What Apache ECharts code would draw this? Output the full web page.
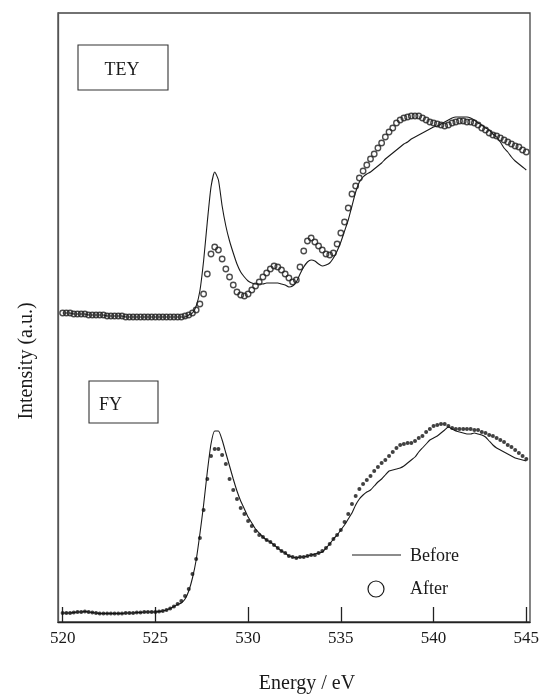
<!DOCTYPE html>
<html>
<head>
<meta charset="utf-8">
<script src="https://cdn.jsdelivr.net/npm/echarts@6/dist/echarts.min.js"></script>
<style>
  html, body { margin: 0; padding: 0; background: #ffffff; }
  #chart { width: 550px; height: 694px; }
</style>
</head>
<body>
<div id="chart"></div>
<script>
// Photon energy (eV) sampling grid shared by all spectra
const energy = [
  520.0, 520.2, 520.4, 520.6, 520.8, 521.0, 521.2, 521.4, 521.6, 521.8,
  522.0, 522.2, 522.4, 522.6, 522.8, 523.0, 523.2, 523.4, 523.6, 523.8,
  524.0, 524.2, 524.4, 524.6, 524.8, 525.0, 525.2, 525.4, 525.6, 525.8,
  526.0, 526.2, 526.4, 526.6, 526.8, 527.0, 527.2, 527.4, 527.6, 527.8,
  528.0, 528.2, 528.4, 528.6, 528.8, 529.0, 529.2, 529.4, 529.6, 529.8,
  530.0, 530.2, 530.4, 530.6, 530.8, 531.0, 531.2, 531.4, 531.6, 531.8,
  532.0, 532.2, 532.4, 532.6, 532.8, 533.0, 533.2, 533.4, 533.6, 533.8,
  534.0, 534.2, 534.4, 534.6, 534.8, 535.0, 535.2, 535.4, 535.6, 535.8,
  536.0, 536.2, 536.4, 536.6, 536.8, 537.0, 537.2, 537.4, 537.6, 537.8,
  538.0, 538.2, 538.4, 538.6, 538.8, 539.0, 539.2, 539.4, 539.6, 539.8,
  540.0, 540.2, 540.4, 540.6, 540.8, 541.0, 541.2, 541.4, 541.6, 541.8,
  542.0, 542.2, 542.4, 542.6, 542.8, 543.0, 543.2, 543.4, 543.6, 543.8,
  544.0, 544.2, 544.4, 544.6, 544.8, 545.0
];

// TEY spectra (vertically offset), arbitrary units
const teyBefore = [
  309, 309, 309, 308, 308, 308, 308, 307, 307, 307,
  307, 307, 306, 306, 306, 306, 306, 305, 305, 305,
  305, 305, 305, 305, 305, 305, 305, 305, 305, 305,
  305, 305, 305, 305, 307, 309, 316, 331, 361, 400,
  435, 450, 442, 416, 396, 381, 369, 358, 350, 345,
  341, 339, 338, 338, 338, 339, 339, 339, 339, 338,
  337, 335, 336, 340, 348, 355, 360, 362, 361, 358,
  356, 357, 359, 364, 371, 380, 391, 402, 416, 430,
  440, 445, 448, 450, 453, 456, 459, 463, 466, 469,
  472, 475, 478, 480, 483, 485, 487, 489, 491, 493,
  495, 496, 498, 500, 502, 504, 505, 505, 505, 505,
  504, 502, 499, 497, 494, 492, 488, 485, 480, 474,
  470, 465, 461, 458, 455, 452
];
const teyAfter = [
  309, 309, 309, 308, 308, 308, 308, 307, 307, 307,
  307, 307, 306, 306, 306, 306, 306, 305, 305, 305,
  305, 305, 305, 305, 305, 305, 305, 305, 305, 305,
  305, 305, 305, 306, 307, 309, 312, 318, 328, 348,
  368, 375, 372, 363, 353, 345, 337, 330, 327, 326,
  328, 332, 336, 340, 345, 349, 353, 356, 355, 352,
  348, 344, 340, 342, 355, 371, 381, 384, 380, 376,
  372, 368, 367, 369, 378, 389, 400, 414, 428, 436,
  444, 451, 457, 463, 468, 474, 479, 485, 490, 494,
  499, 502, 504, 505, 506, 506, 506, 504, 502, 500,
  499, 498, 497, 496, 497, 499, 500, 501, 501, 500,
  500, 499, 497, 494, 492, 489, 487, 486, 484, 482,
  480, 478, 476, 475, 472, 470
];

// FY spectra, arbitrary units
const fyBefore = [
  9, 9, 9, 9.5, 10, 10, 10.5, 10, 9.5, 9,
  8.5, 8.5, 8.5, 8.5, 8.5, 8.5, 8.5, 9, 9, 9,
  9.5, 9.5, 10, 10, 10, 10, 10.5, 11, 12, 13.5,
  15.5, 17.5, 19, 23, 31, 44, 62, 88, 117, 150,
  178, 191, 191, 182, 169, 156, 143, 131, 121, 113,
  105, 99, 93, 89, 85, 82, 80, 77, 74, 71,
  69, 66, 65, 64, 65, 65, 66, 67, 68, 69,
  70, 74, 78, 83, 87, 92, 97, 103, 109, 117,
  123, 127, 130, 132, 136, 140, 143, 147, 151, 152,
  153, 154, 156, 159, 162, 165, 170, 174, 178, 182,
  184, 186, 189, 192, 195, 193, 191, 190, 189, 188,
  188, 189, 188, 187, 185, 181, 177, 174, 172, 170,
  168, 166, 164, 163, 162, 161
];
const fyAfter = [
  9, 9, 9, 9.5, 10, 10, 10.5, 10, 9.5, 9,
  8.5, 8.5, 8.5, 8.5, 8.5, 8.5, 8.5, 9, 9, 9,
  9.5, 9.5, 10, 10, 10, 10, 10.5, 11, 12, 13.5,
  15.5, 18, 21, 26, 33, 48, 63, 84, 112, 143,
  166, 173, 173, 167, 158, 143, 132, 123, 114, 108,
  101, 96, 91, 87, 85, 82, 80, 77, 74, 71,
  69, 66, 65, 64, 65, 65, 66, 67, 67, 69,
  71, 74, 78, 83, 87, 92, 100, 108, 118, 126,
  133, 138, 142, 146, 151, 155, 159, 162, 166, 170,
  174, 177, 178, 179, 179, 181, 184, 186, 190, 193,
  196, 197, 198, 198, 196, 194, 193, 193, 193, 193,
  193, 192, 192, 190, 189, 187, 186, 184, 182, 180,
  177, 175, 172, 169, 166, 163
];

// Axis tick positions (eV)
const tickValues = [520, 525, 530, 535, 540, 545];

const SERIF = 'Liberation Serif';
const INK = '#1a1a1a';

function pairs(xs, ys) {
  return xs.map(function (x, i) { return [x, ys[i]]; });
}

const chart = echarts.init(document.getElementById('chart'), null, { renderer: 'canvas' });

chart.setOption({
  animation: false,
  backgroundColor: '#ffffff',
  grid: {
    left: 58, right: 20, top: 13, bottom: 72,
    show: true, borderColor: '#444', borderWidth: 1.3
  },
  xAxis: {
    type: 'value',
    min: 519.75,
    max: 545.2,
    axisLine: { lineStyle: { color: '#222', width: 1.3 } },
    axisTick: {
      inside: true, length: 15, customValues: tickValues,
      lineStyle: { color: '#222', width: 1.3 }
    },
    axisLabel: {
      customValues: tickValues, margin: 8,
      fontFamily: SERIF, fontSize: 17, color: INK
    },
    splitLine: { show: false }
  },
  yAxis: {
    type: 'value',
    min: 0,
    max: 609,
    axisLine: { show: true, lineStyle: { color: '#555', width: 1.3 } },
    axisTick: { show: false },
    axisLabel: { show: false },
    splitLine: { show: false }
  },
  series: [
    {
      name: 'Before', type: 'line', data: pairs(energy, teyBefore),
      showSymbol: false, smooth: 0.2, z: 2,
      lineStyle: { color: INK, width: 1.1 }
    },
    {
      name: 'After', type: 'scatter', data: pairs(energy, teyAfter),
      symbol: 'circle', symbolSize: 5.5, z: 3,
      itemStyle: { color: 'transparent', borderColor: '#1e1e1e', borderWidth: 1.35 }
    },
    {
      name: 'Before', type: 'line', data: pairs(energy, fyBefore),
      showSymbol: false, smooth: 0.2, z: 2,
      lineStyle: { color: INK, width: 1.1 }
    },
    {
      name: 'After', type: 'scatter', data: pairs(energy, fyAfter),
      symbol: 'circle', symbolSize: 4, z: 3,
      itemStyle: { color: '#111' }
    }
  ],
  graphic: [
    // Panel tags
    {
      type: 'rect', shape: { x: 78, y: 45, width: 90, height: 45 },
      style: { fill: 'none', stroke: '#333', lineWidth: 1.1 }
    },
    {
      type: 'text', x: 122, y: 70,
      style: { text: 'TEY', fontFamily: SERIF, fontSize: 18, fill: INK, align: 'center', verticalAlign: 'middle' }
    },
    {
      type: 'rect', shape: { x: 89, y: 381, width: 69, height: 42 },
      style: { fill: 'none', stroke: '#333', lineWidth: 1.1 }
    },
    {
      type: 'text', x: 99, y: 405,
      style: { text: 'FY', fontFamily: SERIF, fontSize: 18, fill: INK, align: 'left', verticalAlign: 'middle' }
    },
    // Key
    {
      type: 'line', shape: { x1: 352, y1: 555, x2: 401, y2: 555 },
      style: { stroke: INK, lineWidth: 1.1 }
    },
    {
      type: 'text', x: 410, y: 556,
      style: { text: 'Before', fontFamily: SERIF, fontSize: 18, fill: INK, align: 'left', verticalAlign: 'middle' }
    },
    {
      type: 'circle', shape: { cx: 376, cy: 589, r: 8 },
      style: { fill: 'none', stroke: INK, lineWidth: 1.2 }
    },
    {
      type: 'text', x: 410, y: 589,
      style: { text: 'After', fontFamily: SERIF, fontSize: 18, fill: INK, align: 'left', verticalAlign: 'middle' }
    },
    // Axis titles
    {
      type: 'text', x: 307, y: 684,
      style: { text: 'Energy / eV', fontFamily: SERIF, fontSize: 20, fill: INK, align: 'center', verticalAlign: 'middle' }
    },
    {
      type: 'text', x: 27, y: 361, rotation: Math.PI / 2,
      style: { text: 'Intensity (a.u.)', fontFamily: SERIF, fontSize: 20, fill: INK, align: 'center', verticalAlign: 'middle' }
    }
  ]
});
</script>
</body>
</html>
